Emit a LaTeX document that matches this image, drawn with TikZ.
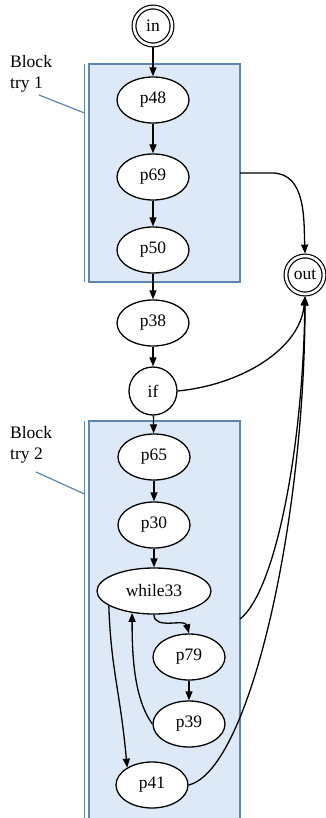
\documentclass[tikz,border=0pt]{standalone}
\usepackage{fontspec}
\setmainfont{Liberation Serif}
\usetikzlibrary{shapes.geometric,arrows.meta}
\definecolor{blockfill}{RGB}{221,233,246}
\definecolor{blockline}{RGB}{94,134,176}

\begin{document}
\begin{tikzpicture}[x=1pt,y=-1pt,
    every node/.style={font=\fontsize{17.5}{21}\selectfont},
    stmt/.style={ellipse,draw,line width=1.3pt,fill=white,minimum width=72pt,minimum height=46pt,inner sep=0pt},
    term/.style={circle,draw,line width=1.2pt,double,double distance=2.6pt,minimum size=38pt,inner sep=0pt,outer sep=2.4pt},
    edge/.style={line width=1.3pt,-{Triangle[length=9pt,width=7pt]}},
    blockbox/.style={fill=blockfill,draw=blockline,line width=1.5pt},
    blocklabel/.style={anchor=north west,align=left,inner sep=0pt}]
            \useasboundingbox (0,0) rectangle (326,818);
            % try blocks
            \fill[blockfill] (89,64) rectangle (240,282);
            \draw[blockbox,fill=none] (89,64) rectangle (240,282);
            \draw[blockline,line width=1.5pt] (84.5,64) -- (84.5,282);
            \fill[blockfill] (89,421) rectangle (240,818);
            \draw[blockbox,fill=none] (89,818) |- (240,421) -- (240,818);
            \draw[blockline,line width=1.5pt] (84.5,421) -- (84.5,818);
            \node[blocklabel] (lab1) at (10,55) {Block\\try 1};
            \node[blocklabel] (lab2) at (10,426) {Block\\try 2};
            \draw[blockline,line width=1.2pt] (39,95) -- (84.5,113);
            \draw[blockline,line width=1.2pt] (36,472) -- (84.5,494);
            % nodes
            \node[term] (in) at (153,26) {in};
            \node[term] (out) at (305,275) {out};
            \node[stmt] (p48) at (153,100) {p48};
            \node[stmt] (p69) at (153,177) {p69};
            \node[stmt] (p50) at (153,250) {p50};
            \node[stmt] (p38) at (153,323) {p38};
            \node[circle,draw,line width=1.3pt,fill=white,minimum size=48pt,inner sep=0pt] (if) at (153,391) {if};
            \node[stmt] (p65) at (154,457) {p65};
            \node[stmt] (p30) at (154,525) {p30};
            \node[stmt,minimum width=114pt] (while33) at (154,591) {while33};
            \node[stmt] (p79) at (189,657) {p79};
            \node[stmt] (p39) at (189,724) {p39};
            \node[stmt] (p41) at (152,785) {p41};
            \coordinate (t1) at (240,173);
            \coordinate (t2) at (240,619);
            % edges
            \draw[edge] (in) -- (p48);
            \draw[edge] (p48) -- (p69);
            \draw[edge] (p69) -- (p50);
            \draw[edge] (p50) -- (p38);
            \draw[edge] (p38) -- (if);
            \draw[edge] (if) -- (p65);
            \draw[edge] (p65) -- (p30);
            \draw[edge] (p30) -- (while33);
            \draw[edge] (p79) -- (p39);
            \draw[edge] (while33.south) to[out=-90,in=105] (p79.north);
            \draw[edge] (while33.198) .. controls (111,670) and (120,690) .. (p41.145);
            \draw[edge] (p39.west) .. controls (135,700) and (132,660) .. (while33.225);
            \draw[edge] (t1) -- ++(32,0) to[out=0,in=92] (out.north);
            \draw[edge] (if.east) .. controls (240,385) and (300,350) .. (out.south);
            \draw[edge] (t2) .. controls (275,592) and (303,450) .. (out.south);
            \draw[edge] (p41.east) .. controls (250,770) and (305,520) .. (out.south);
        \end{tikzpicture}
\end{document}
